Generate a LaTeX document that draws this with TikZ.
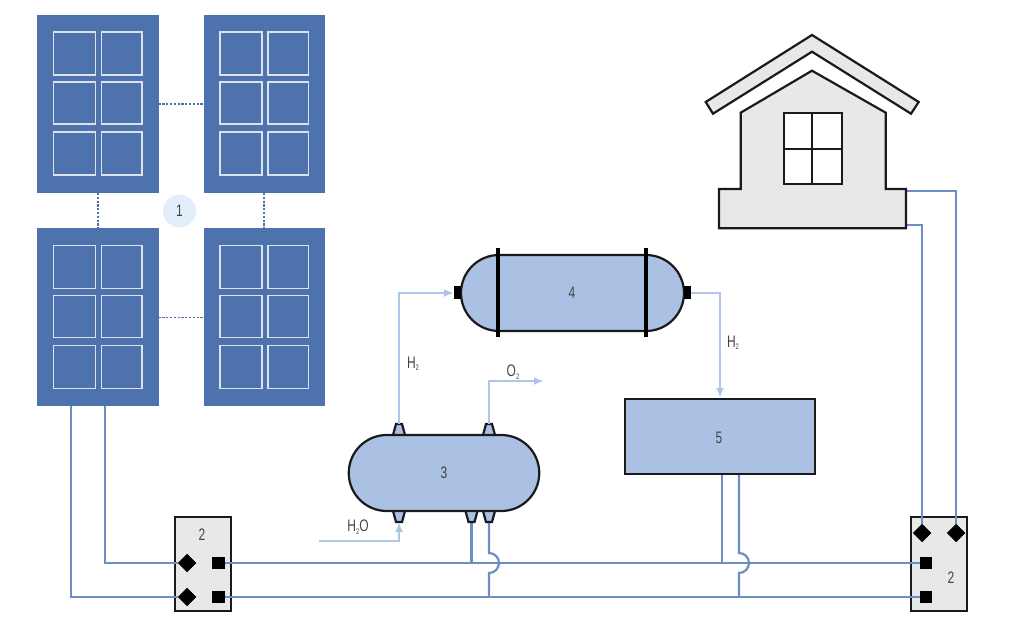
\documentclass[tikz,border=0pt]{standalone}
\usepackage{fontspec}
\setmainfont[FakeStretch=0.72]{Liberation Sans}
\usetikzlibrary{arrows.meta,shapes.geometric,calc}
\definecolor{panelblue}{HTML}{4E72AD}
\definecolor{wireblue}{HTML}{6C8EC4}
\definecolor{flowblue}{HTML}{AFC6E9}
\definecolor{tankblue}{HTML}{AAC1E3}
\definecolor{housegrey}{HTML}{E8E8E8}
\definecolor{badge}{HTML}{E3EEFB}
\definecolor{ink}{HTML}{1A1A1A}
\definecolor{txt}{HTML}{444444}
\def\U{0.75pt}
\newcommand{\subs}[1]{\raisebox{-1.8pt}{\fontsize{6pt}{6pt}\selectfont #1}}
\tikzset{
  x=0.75pt,y=-0.75pt,
  every node/.style={inner sep=0pt,outer sep=0pt},
  lbl/.style={text=txt,font=\fontsize{12.5pt}{13pt}\selectfont},
  panel/.style={fill=panelblue,draw=none,minimum width=121.5*\U,minimum height=178*\U},
  pane/.style={draw=white!80!panelblue,line width=1.4*\U,fill=none},
  link/.style={draw=panelblue,line width=1.6*\U,dash pattern=on 2.2*\U off 1.6*\U},
  wire/.style={draw=wireblue,line width=2.2*\U},
  flow/.style={draw=flowblue,line width=2.2*\U},
  flowa/.style={flow,-{Latex[length=10*\U,width=8*\U]}},
  tank/.style={draw=ink,line width=2.2*\U,fill=tankblue},
  grey/.style={draw=ink,line width=2.2*\U,fill=housegrey},
  bar/.style={draw=black,line width=3.4*\U},
  dia/.style={diamond,fill=black,minimum width=18*\U,minimum height=18*\U},
  sq/.style={rectangle,fill=black,minimum width=12.5*\U,minimum height=12.5*\U},
}
\newcommand{\panes}[2]{%
  \foreach \wx/\ww in {16.5/42,64.5/40.5}{
    \foreach \wy/\wh in {17/43,67/42,117/43}{
      \draw[pane] (#1+\wx,#2+\wy) rectangle ++(\ww,\wh);
    }
  }%
}
\newcommand{\nozup}[2]{\draw[tank] (#1-6,#2+11) -- (#1-3,#2) -- (#1+3,#2) -- (#1+6,#2+11);}
\newcommand{\nozdn}[2]{\draw[tank] (#1-6,#2) -- (#1-3,#2+11) -- (#1+3,#2+11) -- (#1+6,#2);}
\begin{document}
\begin{tikzpicture}
\useasboundingbox (0,0) rectangle (1024,630);
% solar panels
\node[panel,anchor=north west] (pa) at (37,15) {};
\node[panel,anchor=north west] (pb) at (203.5,15) {};
\node[panel,anchor=north west] (pc) at (37,228.5) {};
\node[panel,anchor=north west] (pd) at (203.5,228.5) {};
\panes{37}{15}\panes{203.5}{15}\panes{37}{228.5}\panes{203.5}{228.5}
\draw[link] (pa.east) -- (pb.west);
\draw[link] (pc.east) -- (pd.west);
\draw[link] (pa.south) -- (pc.north);
\draw[link] (pb.south) -- (pd.north);
\node[circle,fill=badge,minimum size=33*\U,text=txt,font=\fontsize{12.5pt}{13pt}\selectfont] (badge1) at (179.5,211) {1};
% controller boxes
\node[grey,rectangle,minimum width=56.5*\U,minimum height=94*\U] (boxL) at (203,564) {};
\node[grey,rectangle,minimum width=56.5*\U,minimum height=94*\U] (boxR) at (939,564) {};
\node[lbl] (boxLt) at (202,535) {2};
\node[lbl] (boxRt) at (951,578) {2};
% anchor points
\coordinate (pc1) at (71,406);
\coordinate (pc2) at (105,406);
\coordinate (n3a) at (471.5,522);
\coordinate (n3b) at (489,522);
\coordinate (j1) at (471.5,563);
\coordinate (j2) at (489,553);
\coordinate (j4) at (489,597);
\coordinate (t5a) at (722,474);
\coordinate (t5b) at (739,474);
\coordinate (j5) at (722,563);
\coordinate (j6) at (739,553);
\coordinate (j8) at (739,597);
\coordinate (h1) at (906,191);
\coordinate (h2) at (906,225);
% wires
\node[dia] (dL1) at (187,563) {};
\node[dia] (dL2) at (187,597) {};
\node[sq] (sL1) at (218.5,563) {};
\node[sq] (sL2) at (218.5,597) {};
\node[dia] (dR1) at (922,533) {};
\node[dia] (dR2) at (956,533) {};
\node[sq] (sR1) at (926,563) {};
\node[sq] (sR2) at (926,597) {};
\draw[wire] (pc1) |- (dL2.center);
\draw[wire] (pc2) |- (dL1.center);
\draw[wire] (sL1.center) -- (sR1.center);
\draw[wire] (sL2.center) -- (sR2.center);
\draw[wire] (n3a) -- (j1);
\draw[wire] (n3b) -- (j2) arc[start angle=-90,end angle=90,radius=10] -- (j4);
\draw[wire] (t5a) -- (j5);
\draw[wire] (t5b) -- (j6) arc[start angle=-90,end angle=90,radius=10] -- (j8);
\draw[wire] (h1) -| (dR2.center);
\draw[wire] (h2) -| (dR1.center);
\node[dia] at (dL1) {};
\node[dia] at (dL2) {};
\node[sq] at (sL1) {};
\node[sq] at (sL2) {};
\node[dia] at (dR1) {};
\node[dia] at (dR2) {};
\node[sq] at (sR1) {};
\node[sq] at (sR2) {};
% tank 3
\nozup{399}{424}\nozup{489}{424}
\nozdn{399}{511}\nozdn{471.5}{511}\nozdn{489}{511}
\node[tank,rectangle,rounded corners=28.5pt,minimum width=190.5*\U,minimum height=76*\U] (t3) at (444,473) {};
\node[lbl] (t3t) at (444,473) {3};
% tank 4
\node[tank,rectangle,rounded corners=28.5pt,minimum width=223*\U,minimum height=76*\U] (t4) at (572.5,293) {};
\draw[bar] (498,248) coordinate (b1) -- (498,337);
\draw[bar] (646,248) coordinate (b2) -- (646,337);
\node[rectangle,fill=black,minimum width=7*\U,minimum height=13*\U,anchor=east] (pl) at (t4.west) {};
\node[rectangle,fill=black,minimum width=6.5*\U,minimum height=13*\U,anchor=west] (pr) at (t4.east) {};
\node[lbl] (t4t) at (572,293) {4};
% tank 5
\node[tank,rectangle,minimum width=190*\U,minimum height=75*\U] (t5) at (720,436.5) {};
\node[lbl] (t5t) at (719,438) {5};
% flows
\coordinate (n1) at (399,424);
\coordinate (n2) at (489,424);
\coordinate (n0) at (399,522);
\coordinate (o2end) at (544,381);
\coordinate (h2o) at (319,541);
\draw[flowa] (n1) |- (pl.west);
\draw[flowa] (pr.east) -| ($(t5.north west)+(95,-1)$);
\draw[flowa] (n2) |- (o2end);
\draw[flowa] (h2o) -| (n0);
\node[lbl] (l1) at (413,364) {H\subs{2}};
\node[lbl] (l2) at (513,372) {O\subs{2}};
\node[lbl] (l3) at (358,527) {H\subs{2}O};
\node[lbl] (l4) at (733,343) {H\subs{2}};
% house
\draw[grey,miter limit=10] (705.7,102) -- (812,35) -- (918.7,102) -- (911,113.7) -- (812,51.7) -- (713,113.7) -- cycle;
\draw[grey] (812,70.7) -- (885.7,112.7) -- (885.7,189) -- (906,189) -- (906,228.3) -- (719,228.3) -- (719,189) -- (740.7,189) -- (740.7,112.7) -- cycle;
\draw[draw=ink,line width=2.2*\U,fill=white] (783.7,112.7) rectangle (841.7,184);
\draw[draw=ink,line width=2*\U] (812.3,112.7) -- (812.3,184) (783.7,148.7) -- (841.7,148.7);
\end{tikzpicture}
\end{document}
